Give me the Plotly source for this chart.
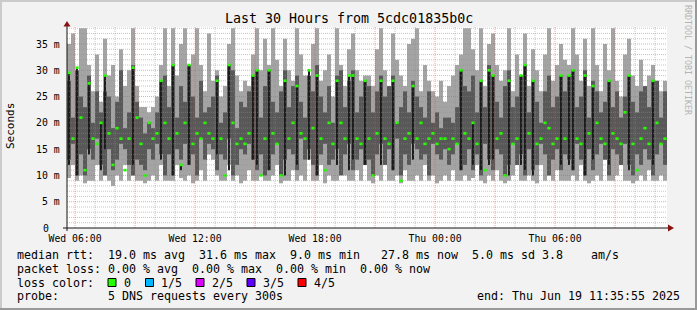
import plotly.graph_objects as go
import pandas as pd

# ---------------- data (12-minute bins) ----------------
START = "2025-06-18 05:35:55"
END = "2025-06-19 11:35:55"
BIN_MINUTES = 12

smoke_max = [35,37,28,38,38,31,26,33,24,36,29,31,25,34,27,30,38,27,23,23,22,23,25,31,38,
             27,38,29,35,38,30,33,38,31,26,37,28,30,25,27,35,38,29,26,28,27,33,38,30,36,
             31,38,32,27,36,30,28,38,33,29,26,35,38,28,30,33,25,38,31,27,34,37,30,28,29,
             29,27,34,38,30,26,37,32,29,27,35,36,38,26,31,28,26,25,28,24,27,29,31,33,38,
             38,34,30,38,27,35,37,31,28,30,38,26,33,29,37,27,34,30,26,33,38,28,31,35,32,
             31,38,33,28,36,27,38,31,26,35,30,38,28,25,33,36,29,27,32,26,29,31,28,26,28]
smoke_min = [9.5,12,9,10,8.5,9,9,12,9,10,9,8,10,9,12,9,10,9,9,8.5,9,10,9,12,9,
             9,9,12,9.5,9,10,8.5,9,11,9,14,13,10,9,9,12,9,10,8.5,9,11,9,9,10,9,
             9,10,12,8.5,9,9,11,9,10,9,13,9,9,12,8.5,10,9,9,12,10,9,9,11,9,12,
             9,8.5,10,9,12,9,9,10,8.5,11,9,9,10,9,12,9,10,8.5,9,10,9,11,9,9,10,
             9,9.5,12,9,8.5,10,9,11,9,8.5,9,10,12,9,9,10,9,8.5,12,9,10,9,11,9,9,
             9,10,9,12,9,8.5,9,10,9,13,9,9,10,12,9,9,8.5,9,10,9,11,9,9,10,9]
inner_lo = [13,16,10,14,10,15,13,17,12,10,15,11,13,16,15,12,10,13,12,11,15,13,16,14,10,
            14,10,15,13,16,12,14,10,17,13,16,15,11,14,13,17,10,12,15,14,16,13,11,14,10,
            11,14,16,10,13,15,14,11,17,13,15,12,10,14,16,12,13,15,10,14,16,11,13,15,12,
            13,10,14,16,12,15,11,17,10,14,12,16,15,13,14,10,16,14,13,15,12,14,16,11,12,
            15,11,14,10,16,13,11,15,14,10,12,16,12,14,10,15,11,12,16,14,10,13,15,11,14,
            13,11,16,13,10,15,11,14,16,13,10,15,14,12,16,12,10,14,12,15,13,10,14,16,12]
inner_hi = [28,21,30,25,23,29,20,26,22,26,25,19,24,30,19,22,31,24,21,18,20,19,22,28,29,
            23,31,21,27,24,31,25,21,28,22,23,25,29,20,22,31,30,19,24,23,26,29,30,21,27,
            30,24,22,26,30,23,27,29,24,21,29,26,31,25,22,27,20,29,30,23,28,30,22,25,28,
            27,22,26,29,25,27,29,20,23,26,22,28,25,23,21,26,20,22,19,21,21,20,23,30,27,
            26,29,22,28,23,31,29,24,21,27,30,23,25,29,31,22,28,24,20,26,29,23,25,29,26,
            29,30,23,25,30,21,28,26,22,24,28,23,26,21,25,29,24,22,26,27,23,28,28,21,26]
median = [29.5,17,30.5,21,11,27.5,17,16,20,29,18,12,19,17,11,17,30.5,21,16,10,20,17,18,28,20,
          17,31,18,12,20,31,16,18,17,20,18,17,28,17,10,31,20,16,17,16,18,29,30,10,17,
          30,18,16,10,28,17,20,27,18,17,30,19,29,17,11,20,16,28,20,17,29,29,17,16,28,
          17,10,18,28,17,16,28,20,9,17,18,27,17,20,16,17,18,16,17,17,15,17,16,30,18,
          17,20,16,28,11,30,29,17,18,10,28,16,17,29,31,18,28,16,17,20,19,16,17,29,17,
          29,30,17,16,29,18,27,20,17,16,28,18,17,16,22,29,16,11,17,19,16,28,20,16,17]
core_lo = [12,None,10,None,None,14,None,None,11,15,None,None,None,None,None,None,12,None,None,None,None,None,None,13,None,
           None,10,None,11,None,12,None,None,None,None,None,None,14,None,None,11,None,None,None,None,None,13,12,None,None,
           11,None,None,None,10,None,None,12,None,None,13,None,10,None,None,None,None,12,None,None,11,13,None,None,12,
           None,None,None,12,None,None,11,None,None,None,None,13,None,None,None,None,None,None,None,None,None,None,None,11,None,
           None,12,None,11,None,12,13,None,None,None,10,None,None,12,11,None,10,None,None,None,None,None,None,12,None,
           12,11,None,None,10,None,13,None,None,None,12,None,None,None,None,11,None,None,None,None,None,12,None,None,None]

y_tick_vals = [0, 5, 10, 15, 20, 25, 30, 35]
y_tick_text = ["0", "5 m", "10 m", "15 m", "20 m", "25 m", "30 m", "35 m"]
x_tick_vals = ["2025-06-18 06:00", "2025-06-18 09:00", "2025-06-18 12:00", "2025-06-18 15:00",
               "2025-06-18 18:00", "2025-06-18 21:00", "2025-06-19 00:00", "2025-06-19 03:00",
               "2025-06-19 06:00", "2025-06-19 09:00"]
x_tick_text = ["Wed 06:00", "", "Wed 12:00", "", "Wed 18:00", "", "Thu 00:00", "", "Thu 06:00", ""]

title_text = "Last 30 Hours from 5cdc01835b0c"
legend_lines = [
    "median rtt:  19.0 ms avg  31.6 ms max  9.0 ms min   27.8 ms now  5.0 ms sd 3.8    am/s",
    "packet loss: 0.00 % avg  0.00 % max  0.00 % min  0.00 % now",
]
loss_labels = ["0", "1/5", "2/5", "3/5", "4/5"]
loss_colors = ["#26ff00", "#00b8ff", "#dd00ff", "#5e00ff", "#ff0000"]
probe_text = "5 DNS requests every 300s"
end_text = "end: Thu Jun 19 11:35:55 2025"

# ---------------- layout geometry ----------------
W, H = 697, 310
L, R, T, B = 67, 30, 27, 82
PW, PH = W - L - R, H - T - B
YMAX = 38.235
MONO = "DejaVu Sans Mono"

def px(x):
    return (x - L) / PW

def py(y):
    return (T + PH - y) / PH

t0 = pd.Timestamp(START)
t1 = pd.Timestamp(END)
bin_ms = BIN_MINUTES * 60 * 1000
times = [t0 + pd.Timedelta(minutes=BIN_MINUTES * (i + 0.5)) for i in range(len(median))]

fig = go.Figure()
fig.add_bar(x=times, y=[h - l for h, l in zip(smoke_max, smoke_min)], base=smoke_min,
            width=bin_ms, marker=dict(color="#a4a4a4", line=dict(width=0)))
fig.add_bar(x=times, y=[h - l for h, l in zip(inner_hi, inner_lo)], base=inner_lo,
            width=bin_ms, marker=dict(color="#585858", line=dict(width=0)))
cx = [t for t, c in zip(times, core_lo) if c is not None]
cb = [c for c in core_lo if c is not None]
cm = [m for m, c in zip(median, core_lo) if c is not None]
fig.add_bar(x=cx, y=[m - c for m, c in zip(cm, cb)], base=cb,
            width=bin_ms * 0.45, marker=dict(color="#1c1c1c", line=dict(width=0)))
fig.add_bar(x=times, y=[0.5] * len(median), base=[m - 0.25 for m in median],
            width=bin_ms * 0.8, marker=dict(color="#26ff00", line=dict(width=0)))

shapes = []
minor_col = "rgba(143,143,143,0.5)"
major_col = "rgba(222,80,80,0.5)"
for v in range(1, 39):
    col = major_col if v % 5 == 0 else minor_col
    shapes.append(dict(type="line", xref="paper", yref="y", x0=0, x1=1, y0=v, y1=v,
                       line=dict(color=col, width=1, dash="1px,1px"), layer="above"))
hours = pd.date_range("2025-06-18 06:00", "2025-06-19 11:00", freq="1h")
for hh in hours:
    col = major_col if hh.hour % 3 == 0 else minor_col
    shapes.append(dict(type="line", xref="x", yref="paper", x0=hh, x1=hh, y0=0, y1=1,
                       line=dict(color=col, width=1, dash="1px,1px"), layer="above"))
shapes.append(dict(type="line", xref="paper", yref="paper", x0=px(63), x1=px(670), y0=0, y1=0,
                   line=dict(color="#151515", width=1), layer="above"))
shapes.append(dict(type="line", xref="paper", yref="paper", x0=0, x1=0, y0=py(231), y1=py(24),
                   line=dict(color="#151515", width=1), layer="above"))
shapes.append(dict(type="path", xref="paper", yref="paper", layer="above",
                   path=f"M {px(63.5)} {py(26.5)} L {px(70.5)} {py(26.5)} L {px(67)} {py(21)} Z",
                   fillcolor="#8b1010", line=dict(width=0)))
shapes.append(dict(type="path", xref="paper", yref="paper", layer="above",
                   path=f"M {px(668)} {py(224.5)} L {px(668)} {py(231.5)} L {px(674)} {py(228)} Z",
                   fillcolor="#8b1010", line=dict(width=0)))
shapes.append(dict(type="rect", xref="paper", yref="paper", x0=px(0), x1=px(697), y0=py(0), y1=py(2),
                   fillcolor="#cbcbcb", line=dict(width=0), layer="above"))
shapes.append(dict(type="rect", xref="paper", yref="paper", x0=px(0), x1=px(2), y0=py(0), y1=py(310),
                   fillcolor="#cbcbcb", line=dict(width=0), layer="above"))
shapes.append(dict(type="rect", xref="paper", yref="paper", x0=px(0), x1=px(697), y0=py(308), y1=py(310),
                   fillcolor="#999999", line=dict(width=0), layer="above"))
shapes.append(dict(type="rect", xref="paper", yref="paper", x0=px(695), x1=px(697), y0=py(0), y1=py(310),
                   fillcolor="#999999", line=dict(width=0), layer="above"))

annotations = []
def txt(x, y, s, size, xanchor="left", color="#000000", angle=0, yref="paper", yanchor="middle"):
    yy = py(y) if yref == "paper" else y
    annotations.append(dict(x=px(x), y=yy, xref="paper", yref=yref, text=s.replace(" ", "\u00a0"),
                            showarrow=False, xanchor=xanchor, yanchor=yanchor, borderpad=0,
                            textangle=angle, font=dict(family=MONO, size=size, color=color)))

LEG = 11.63
txt(348.5, 19, title_text, 13.3, xanchor="center")
txt(10, 126, "Seconds", 11, xanchor="center", angle=-90)
txt(688, 60, "RRDTOOL / TOBI OETIKER", 8.3, xanchor="center", color="#b4b4b4", angle=90)
for v, lab in zip(y_tick_vals, y_tick_text):
    if v == 0:
        txt(42.3, v, lab, 9.8, xanchor="left", yref="y")
    else:
        txt(60.5, v, lab, 9.8, xanchor="right", yref="y")
txt(16, 255, legend_lines[0], LEG)
txt(16, 268.5, legend_lines[1], LEG)
txt(16, 282.5, "loss color:", LEG)
box_x = [108, 145.5, 196, 247, 298]
for bx, lab, colr in zip(box_x, loss_labels, loss_colors):
    shapes.append(dict(type="rect", xref="paper", yref="paper", x0=px(bx), x1=px(bx + 8),
                       y0=py(286.5), y1=py(278.5), fillcolor=colr,
                       line=dict(color="#000000", width=1), layer="above"))
    txt(bx + 14.5, 282.5, lab, LEG)
txt(16, 296, "probe:", LEG)
txt(106.6, 296, probe_text, LEG)
txt(680.5, 296, end_text, LEG, xanchor="right")

fig.update_layout(
    width=W, height=H, margin=dict(l=L, r=R, t=T, b=B, pad=0),
    paper_bgcolor="#f2f2f2", plot_bgcolor="#ffffff",
    barmode="overlay", showlegend=False, hovermode=False,
    shapes=shapes, annotations=annotations,
    xaxis=dict(type="date", range=[t0, t1], tickmode="array", tickvals=x_tick_vals, ticktext=x_tick_text,
               showgrid=False, zeroline=False, showline=False, ticks="",
               tickfont=dict(family=MONO, size=9.8, color="#000000"), ticklabelstandoff=3),
    yaxis=dict(range=[0, YMAX], showticklabels=False,
               showgrid=False, zeroline=False, showline=False, ticks=""),
)

fig.write_html("out.html")
